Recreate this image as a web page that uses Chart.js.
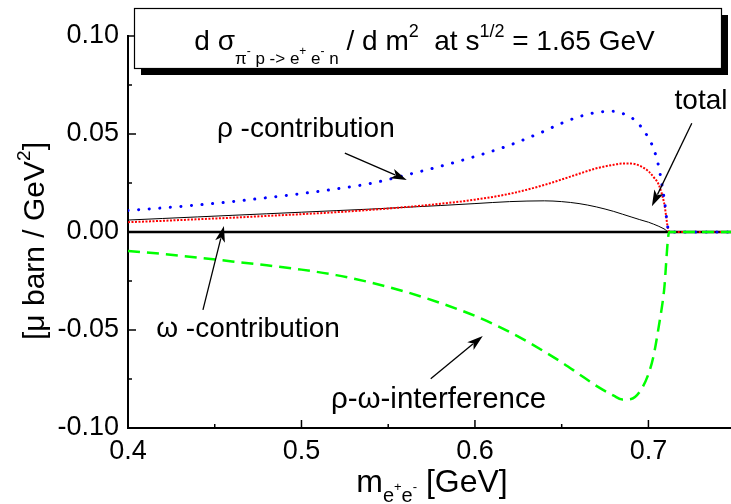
<!DOCTYPE html>
<html>
<head>
<meta charset="utf-8">
<script src="https://cdn.jsdelivr.net/npm/chart.js@4/dist/chart.umd.min.js"></script>
<style>
  html, body { margin: 0; padding: 0; background: #fff; overflow: hidden; }
  #wrap { width: 731px; height: 504px; }
</style>
</head>
<body>
<div id="wrap"><canvas id="c" width="731" height="504"></canvas></div>
<script>
// e+e- invariant mass grid [GeV]
const massGeV = [0.40, 0.42, 0.44, 0.46, 0.48, 0.50, 0.52, 0.54, 0.56, 0.58, 0.60, 0.62, 0.64, 0.65,
                 0.66, 0.67, 0.68, 0.685, 0.69, 0.695, 0.70, 0.703, 0.706, 0.709, 0.712, 0.75];

// d sigma / d m^2  [mu barn / GeV^2]
const rhoContribution = [0.0110, 0.0123, 0.0138, 0.0155, 0.0175, 0.0196, 0.0220, 0.0248, 0.0290, 0.0335,
                         0.0385, 0.0443, 0.0515, 0.0555, 0.0588, 0.0610, 0.0616, 0.0605, 0.0585, 0.0545,
                         0.0480, 0.0425, 0.0330, 0.0175, 0, 0];
const omegaContribution = [0.0050, 0.0057, 0.0065, 0.0073, 0.0082, 0.0091, 0.0101, 0.0113, 0.0127, 0.0144,
                           0.0165, 0.0195, 0.0240, 0.0268, 0.0297, 0.0325, 0.0343, 0.0349, 0.0349, 0.0338,
                           0.0310, 0.0280, 0.0240, 0.0150, 0, 0];
const totalCurve = [0.0061, 0.0069, 0.0077, 0.0085, 0.0093, 0.0101, 0.0109, 0.0117, 0.0126, 0.0135,
                    0.0145, 0.0155, 0.0159, 0.0155, 0.0145, 0.0128, 0.0105, 0.0091, 0.0077, 0.0063,
                    0.0050, 0.0040, 0.0029, 0.0016, 0, 0];
const interference = [-0.0097, -0.0112, -0.0130, -0.0150, -0.0170, -0.0192, -0.0220, -0.0258, -0.0305, -0.0362,
                      -0.0428, -0.0510, -0.0610, -0.0665, -0.0725, -0.0785, -0.0835, -0.0855, -0.0852, -0.0815,
                      -0.0725, -0.0630, -0.0480, -0.0300, 0, 0];

// axis ranges and ticks
const xMin = 0.4, xMax = 0.7476;
const yMin = -0.10, yMax = 0.10;
const xMajorTicks = [0.4, 0.5, 0.6, 0.7];
const xMinorTicks = [0.45, 0.55, 0.65];
const yMajorTicks = [-0.10, -0.05, 0.00, 0.05, 0.10];
const yMinorTicks = [-0.075, -0.025, 0.025, 0.075];

// curve labels placed in data units, each with an arrow [fromX, fromY, toX, toY]
const annotations = [
  { text: 'ρ -contribution', size: 28, x: 0.5025, y: 0.0535, arrow: [0.525, 0.0402, 0.5607, 0.0265] },
  { text: 'total', size: 28, x: 0.7303, y: 0.0678, arrow: [0.725, 0.0555, 0.702, 0.0132] },
  { text: 'ω -contribution', size: 28, x: 0.4692, y: -0.0485, arrow: [0.4432, -0.0397, 0.4553, 0.0031] },
  { text: 'ρ-ω-interference', size: 29.5, x: 0.5790, y: -0.0845, arrow: [0.5745, -0.0749, 0.6045, -0.053] }
];

const FONT = '"Liberation Sans", Arial, sans-serif';

function pts(values) {
  return massGeV.map((m, i) => ({ x: m, y: values[i] }));
}

// draw a run of text pieces [string, size, dy] starting at x (or centred on x)
function richText(ctx, parts, x, y, centre) {
  let w = 0;
  parts.forEach(p => { ctx.font = p[1] + 'px ' + FONT; w += ctx.measureText(p[0]).width; });
  let cx = centre ? x - w / 2 : x;
  parts.forEach(p => {
    ctx.font = p[1] + 'px ' + FONT;
    ctx.fillText(p[0], cx, y + (p[2] || 0));
    cx += ctx.measureText(p[0]).width;
  });
}

function arrow(ctx, x0, y0, x1, y1) {
  const a = Math.atan2(y1 - y0, x1 - x0);
  const L = 16, W = 5;
  ctx.beginPath();
  ctx.moveTo(x0, y0);
  ctx.lineTo(x1 - Math.cos(a) * L * 0.8, y1 - Math.sin(a) * L * 0.8);
  ctx.lineWidth = 1.3;
  ctx.stroke();
  ctx.beginPath();
  ctx.moveTo(x1, y1);
  ctx.lineTo(x1 - Math.cos(a) * L - Math.sin(a) * W, y1 - Math.sin(a) * L + Math.cos(a) * W);
  ctx.lineTo(x1 - Math.cos(a) * L * 0.75, y1 - Math.sin(a) * L * 0.75);
  ctx.lineTo(x1 - Math.cos(a) * L + Math.sin(a) * W, y1 - Math.sin(a) * L - Math.cos(a) * W);
  ctx.closePath();
  ctx.fill();
}

const decorations = {
  id: 'decorations',
  beforeDatasetsDraw(chart) {
    const { ctx, chartArea, scales } = chart;
    const y0 = scales.y.getPixelForValue(0);
    ctx.save();
    ctx.strokeStyle = '#000';
    ctx.lineWidth = 2.5;
    ctx.beginPath();
    ctx.moveTo(chartArea.left, y0);
    ctx.lineTo(chartArea.right, y0);
    ctx.stroke();
    ctx.restore();
  },
  afterDraw(chart) {
    const { ctx, chartArea, scales } = chart;
    const sx = scales.x, sy = scales.y;
    ctx.save();
    ctx.strokeStyle = '#000';
    ctx.fillStyle = '#000';

    // inward tick marks
    ctx.lineWidth = 1.5;
    const tick = (v, len, isX) => {
      ctx.beginPath();
      if (isX) {
        const p = sx.getPixelForValue(v);
        ctx.moveTo(p, chartArea.bottom); ctx.lineTo(p, chartArea.bottom - len);
      } else {
        const p = sy.getPixelForValue(v);
        ctx.moveTo(chartArea.left, p); ctx.lineTo(chartArea.left + len, p);
      }
      ctx.stroke();
    };
    xMajorTicks.forEach(v => tick(v, 8, true));
    xMinorTicks.forEach(v => tick(v, 4, true));
    yMajorTicks.forEach(v => tick(v, 8, false));
    yMinorTicks.forEach(v => tick(v, 4, false));

    // curve labels and arrows
    ctx.textBaseline = 'alphabetic';
    annotations.forEach(a => {
      ctx.font = a.size + 'px ' + FONT;
      ctx.textAlign = 'center';
      ctx.fillText(a.text, sx.getPixelForValue(a.x), sy.getPixelForValue(a.y) + 10);
      const [fx, fy, tx, ty] = a.arrow;
      arrow(ctx, sx.getPixelForValue(fx), sy.getPixelForValue(fy), sx.getPixelForValue(tx), sy.getPixelForValue(ty));
    });
    ctx.textAlign = 'left';

    // title box with drop shadow
    const bx = 134, by = 8, bw = 587, bh = 60;
    ctx.fillStyle = '#000';
    ctx.fillRect(bx + 7, by + 7, bw, bh);
    ctx.fillStyle = '#fff';
    ctx.fillRect(bx, by, bw, bh);
    ctx.lineWidth = 1.2;
    ctx.strokeRect(bx + 0.5, by + 0.5, bw, bh);
    ctx.fillStyle = '#000';
    richText(ctx, [
      ['d σ', 28, 0], ['π', 17, 14], ['-', 12, 5], [' p -> e', 17, 14], ['+', 12, 5],
      [' e', 17, 14], ['-', 12, 5], [' n', 17, 14], [' / d m', 28, 0], ['2', 18, -13],
      ['  at s', 28, 0], ['1/2', 18, -13], [' = 1.65 GeV', 28, 0]
    ], bx + bw / 2 - 3, 50, true);

    // x axis title
    richText(ctx, [
      ['m', 32, 0], ['e', 20, 10], ['+', 13, -1], ['e', 20, 10], ['-', 13, -1], [' [GeV]', 32, 0]
    ], 432, 492, true);

    // y axis title
    ctx.translate(44, 241);
    ctx.rotate(-Math.PI / 2);
    richText(ctx, [['[μ barn / GeV', 30, 0], ['2', 19, -14], [']', 30, 0]], 0, 0, true);
    ctx.restore();
  }
};

new Chart(document.getElementById('c'), {
  type: 'line',
  data: {
    datasets: [
      { label: 'rho-omega interference', data: pts(interference), borderColor: '#00ff00',
        borderWidth: 2.5, borderDash: [12, 7] },
      { label: 'rho contribution', data: pts(rhoContribution), borderColor: '#0000ff',
        borderWidth: 3, borderDash: [0.1, 10.5], borderCapStyle: 'round' },
      { label: 'omega contribution', data: pts(omegaContribution), borderColor: '#ff0000',
        borderWidth: 2, borderDash: [2, 1.5] },
      { label: 'total', data: pts(totalCurve), borderColor: '#000000', borderWidth: 1 }
    ]
  },
  options: {
    responsive: false,
    animation: false,
    devicePixelRatio: 1,
    layout: { padding: { top: 36, right: 0, left: 0, bottom: 0 }, autoPadding: false },
    elements: { point: { radius: 0 }, line: { cubicInterpolationMode: 'monotone', fill: false } },
    plugins: { legend: { display: false }, tooltip: { enabled: false } },
    scales: {
      x: {
        type: 'linear', min: xMin, max: xMax,
        afterBuildTicks: s => { s.ticks = xMajorTicks.map(v => ({ value: v })); },
        afterFit: s => { s.height = 76; s.paddingLeft = 0; s.paddingRight = 0; },
        grid: { display: true, drawOnChartArea: false, drawTicks: false },
        border: { display: true, color: '#000', width: 2 },
        ticks: { color: '#000', padding: 7, maxRotation: 0, font: { family: FONT, size: 27 },
                 callback: v => v.toFixed(1) }
      },
      y: {
        type: 'linear', min: yMin, max: yMax,
        afterBuildTicks: s => { s.ticks = yMajorTicks.map(v => ({ value: v })); },
        afterFit: s => { s.width = 128; },
        grid: { display: true, drawOnChartArea: false, drawTicks: false },
        border: { display: true, color: '#000', width: 2 },
        ticks: { color: '#000', padding: 9, font: { family: FONT, size: 27 },
                 callback: v => v.toFixed(2) }
      }
    }
  },
  plugins: [decorations]
});
</script>
</body>
</html>
